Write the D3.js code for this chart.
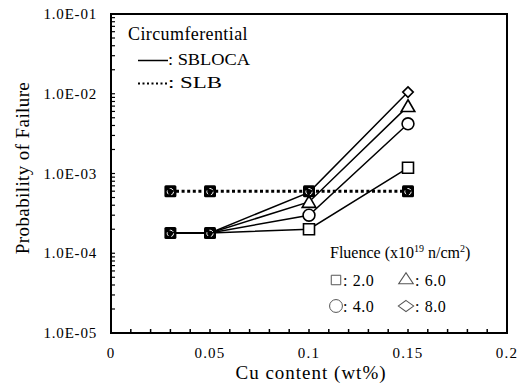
<!DOCTYPE html>
<html><head><meta charset="utf-8">
<script src="https://cdn.jsdelivr.net/npm/d3@7"></script>
<style>svg text { font-family: "Liberation Serif"; }</style>
</head><body style="margin:0;background:#fff"><svg id="c" width="526" height="388"></svg>
<script>
const cu = [0.03, 0.05, 0.1, 0.15];
const slb = [6.0e-4, 6.0e-4, 6.0e-4, 6.0e-4];
const fl2 = [1.8e-4, 1.8e-4, 2.0e-4, 1.18e-3];
const fl4 = [1.8e-4, 1.8e-4, 3.0e-4, 4.2e-3];
const fl6 = [1.8e-4, 1.8e-4, 4.4e-4, 7.0e-3];
const fl8 = [1.8e-4, 1.8e-4, 5.8e-4, 1.05e-2];
const fluenceLabels = ["2.0", "4.0", "6.0", "8.0"];
const xTicks = [0, 0.05, 0.1, 0.15, 0.2];
const yTicks = [1e-5, 1e-4, 1e-3, 1e-2, 1e-1];
const yTickLabels = ["1.0E-05", "1.0E-04", "1.0E-03", "1.0E-02", "1.0E-01"];

const svg = d3.select("#c");
const L = 111, R = 507, T = 14, B = 333;
const x = d3.scaleLinear().domain([0, 0.2]).range([L, R]);
const y = d3.scaleLog().domain([1e-5, 1e-1]).range([B, T]);
function txt(sel) { return sel.append("text").attr("font-family", "Liberation Serif").style("font-family", "Liberation Serif"); }

const diamond = {draw(ctx, size) { const r = Math.sqrt(size) / 2; ctx.moveTo(0, -r); ctx.lineTo(r, 0); ctx.lineTo(0, r); ctx.lineTo(-r, 0); ctx.closePath(); }};
const shapes = [d3.symbolSquare, d3.symbolCircle, d3.symbolTriangle, diamond];

// minor ticks x (inside, bottom)
const xMinor = d3.range(1, 20).map(i => i * 0.01);
svg.append("g").selectAll("line").data(xMinor).join("line")
  .attr("x1", d => x(d)).attr("x2", d => x(d)).attr("y1", B).attr("y2", B - 4)
  .attr("stroke", "#000").attr("stroke-width", 1.5);
// minor ticks y (inside, left)
const yMinor = [];
for (let e = -5; e < -1; e++) for (let k = 1; k <= 9; k++) yMinor.push(k * Math.pow(10, e));
svg.append("g").selectAll("line").data(yMinor).join("line")
  .attr("x1", L).attr("x2", L + 4).attr("y1", d => y(d)).attr("y2", d => y(d))
  .attr("stroke", "#000").attr("stroke-width", 1.2);

// frame
svg.append("rect").attr("x", L).attr("y", T).attr("width", R - L).attr("height", B - T)
  .attr("fill", "none").attr("stroke", "#000").attr("stroke-width", 2);

// tick labels
xTicks.forEach(d => {
  txt(svg).attr("x", x(d)).attr("y", 358).attr("text-anchor", "middle")
    .attr("font-size", 15).attr("letter-spacing", 1.2)
    .text(d === 0 ? "0" : String(d));
});
yTicks.forEach((d, i) => {
  txt(svg).attr("x", 97).attr("y", y(d) + 5).attr("text-anchor", "end")
    .attr("font-size", 15).attr("letter-spacing", 0.8)
    .text(yTickLabels[i]);
});

// axis titles
txt(svg).attr("x", 311).attr("y", 379).attr("text-anchor", "middle")
  .attr("font-size", 19).attr("letter-spacing", 1.0)
  .text("Cu content (wt%)");
txt(svg).attr("transform", "translate(29,168) rotate(-90)").attr("text-anchor", "middle")
  .attr("font-size", 19).attr("letter-spacing", 0.4)
  .text("Probability of Failure");

// SBLOCA lines
const series = [fl2, fl4, fl6, fl8];
const sizes = [121, 110, 80, 110];
const line = d3.line().x((d, i) => x(cu[i])).y(d => y(d));
series.forEach(s => {
  svg.append("path").attr("d", line(s)).attr("fill", "none").attr("stroke", "#000").attr("stroke-width", 1.5);
});
// SLB dotted
svg.append("path").attr("d", line(slb)).attr("fill", "none").attr("stroke", "#000")
  .attr("stroke-width", 3).attr("stroke-dasharray", "3,2.6");

// open markers where series differ
series.forEach((s, si) => {
  s.forEach((v, i) => {
    const allSame = series.every(o => o[i] === v);
    if (allSame) return;
    svg.append("path").attr("d", d3.symbol(shapes[si], sizes[si])())
      .attr("transform", `translate(${x(cu[i])},${y(v) + (si === 2 ? 1.5 : 0)})`)
      .attr("fill", "#fff").attr("stroke", "#000").attr("stroke-width", 1.6);
  });
});
// filled (overlapping) markers
function filled(cx, cy) {
  svg.append("rect").attr("x", cx - 6).attr("y", cy - 6).attr("width", 12).attr("height", 12)
    .attr("rx", 1.5).attr("fill", "#000");
  svg.append("circle").attr("cx", cx).attr("cy", cy + 0.5).attr("r", 3.2).attr("fill", "none")
    .attr("stroke", "#fff").attr("stroke-width", 1).attr("stroke-dasharray", "4,3");
}
cu.forEach((c, i) => {
  if (series.every(o => o[i] === series[0][i])) filled(x(c), y(series[0][i]));
  filled(x(c), y(slb[i]));
});

// legend top-left
txt(svg).attr("x", 128).attr("y", 40).attr("font-size", 18).attr("letter-spacing", 0.4).text("Circumferential");
svg.append("line").attr("x1", 138).attr("x2", 168).attr("y1", 60.5).attr("y2", 60.5)
  .attr("stroke", "#000").attr("stroke-width", 1.5);
txt(svg).attr("x", 168).attr("y", 65).attr("font-size", 16)
  .attr("textLength", 82).attr("lengthAdjust", "spacingAndGlyphs").text(": SBLOCA");
svg.append("line").attr("x1", 138).attr("x2", 168).attr("y1", 83.5).attr("y2", 83.5)
  .attr("stroke", "#000").attr("stroke-width", 2.2).attr("stroke-dasharray", "2,2.5");
txt(svg).attr("x", 168).attr("y", 88).attr("font-size", 16)
  .attr("textLength", 54).attr("lengthAdjust", "spacingAndGlyphs").text(": SLB");

// fluence legend
const ft = txt(svg).attr("x", 330).attr("y", 258).attr("font-size", 16);
ft.append("tspan").text("Fluence (x10");
ft.append("tspan").attr("font-size", 10).attr("dy", -6).text("19");
ft.append("tspan").attr("dy", 6).text(" n/cm");
ft.append("tspan").attr("font-size", 10).attr("dy", -6).text("2");
ft.append("tspan").attr("dy", 6).text(")");
const legPos = [[330, 280], [330, 306], [400, 280], [400, 306]];
legPos.forEach((p, i) => {
  svg.append("path").attr("d", d3.symbol(shapes[i], [90, 130, 70, 150][i])())
    .attr("transform", `translate(${p[0] + 6},${p[1]})` + (i === 3 ? " scale(1.25,0.9)" : (i === 2 ? " scale(1.15,1)" : "")))
    .attr("fill", "#fff").attr("stroke", "#555").attr("stroke-width", 1);
  txt(svg).attr("x", p[0] + (i >= 2 ? 15 : 13)).attr("y", p[1] + 5.5).attr("font-size", 16)
    .attr("letter-spacing", 0.6).text(": " + fluenceLabels[i]);
});
</script></body></html>
